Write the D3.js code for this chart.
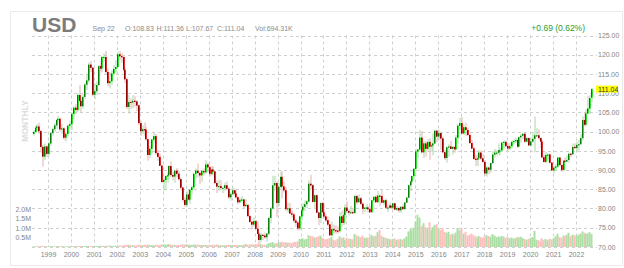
<!DOCTYPE html>
<html>
<head>
<meta charset="utf-8">
<script src="https://cdn.jsdelivr.net/npm/d3@7"></script>
<style>
  body { margin: 0; background: #fff; }
  svg { display: block; font-family: "Liberation Sans", Arial, sans-serif; }
</style>
</head>
<body>
<script>
// monthly bars, the first one is May 1998, the last one is Sep 2022 (partial)
const firstMonth = new Date(1998, 4, 1);

const opens = [
  99.4, 99.9, 101.0, 101.3, 100.1, 96.0, 93.5, 96.1,
  94.2, 96.9, 99.6, 100.6, 101.6, 103.0, 103.3, 100.6, 100.8, 98.4, 99.4, 101.5,
  101.9, 104.6, 106.2, 105.6, 109.5, 108.0, 106.6, 109.0, 112.2, 113.3, 117.4, 116.6,
  109.6, 110.5, 112.1, 117.0, 116.4, 119.4, 119.4, 115.5, 112.6, 113.1, 115.1, 116.3,
  116.8, 120.1, 119.6, 119.4, 116.1, 113.6, 106.4, 107.7, 107.6, 108.0, 107.8, 106.8,
  102.2, 100.1, 100.6, 100.5, 98.0, 93.9, 95.5, 97.9, 98.8, 94.4, 93.4, 91.1,
  86.9, 87.4, 88.4, 88.6, 91.0, 88.7, 88.3, 89.8, 89.0, 87.6, 85.4, 82.2,
  80.9, 83.6, 82.3, 84.8, 85.5, 89.0, 89.8, 89.2, 88.6, 89.7, 89.4, 91.4,
  90.7, 89.0, 90.1, 89.6, 86.6, 85.7, 85.8, 85.3, 85.3, 86.0, 85.1, 82.9,
  83.7, 84.7, 83.9, 82.9, 81.6, 82.2, 82.3, 80.6, 80.9, 78.0, 76.5, 75.8,
  76.7, 74.7, 73.4, 71.8, 73.1, 72.9, 72.5, 73.4, 77.5, 80.0, 86.0, 86.6,
  81.4, 85.6, 88.2, 85.7, 84.7, 79.8, 80.0, 78.7, 78.4, 76.8, 76.3, 74.8,
  77.9, 79.5, 80.4, 81.1, 81.8, 86.4, 86.0, 81.7, 83.4, 78.9, 77.5, 81.4,
  79.0, 77.9, 76.9, 75.8, 73.0, 74.6, 74.3, 74.2, 74.1, 77.9, 76.2, 78.3,
  80.2, 79.3, 78.9, 79.0, 78.8, 83.2, 81.6, 82.6, 81.2, 79.9, 80.2, 80.2,
  79.8, 79.0, 82.1, 83.0, 81.6, 83.3, 83.2, 81.5, 82.1, 80.2, 80.2, 80.7,
  80.2, 81.3, 79.7, 80.1, 79.5, 80.4, 79.8, 81.5, 82.8, 86.0, 87.0, 88.4,
  90.3, 94.8, 95.3, 98.4, 94.6, 96.9, 95.5, 97.3, 96.1, 96.4, 96.9, 100.2,
  98.7, 99.6, 98.2, 94.6, 93.1, 95.9, 96.1, 95.5, 96.0, 95.4, 98.4, 101.5,
  102.2, 99.5, 101.1, 100.4, 99.1, 97.0, 95.6, 92.9, 92.7, 93.1, 94.5, 93.0,
  92.1, 89.1, 90.6, 90.1, 91.8, 94.0, 94.5, 94.5, 95.1, 95.1, 97.1, 97.3,
  96.2, 95.6, 96.2, 97.3, 97.5, 97.8, 96.1, 98.5, 98.9, 99.4, 97.4, 98.3,
  96.4, 97.4, 98.1, 99.0, 99.0, 98.3, 97.4, 93.3, 92.1, 93.9, 94.0, 91.9,
  89.9, 90.6, 90.9, 93.2, 91.3, 90.0, 92.4, 92.2, 92.6, 94.2, 94.1, 96.0,
  95.7, 96.5, 96.7, 98.3, 103.0, 101.8, 104.7, 106.0, 108.83
];
const highs = [
  100.4, 101.6, 101.9, 102.3, 100.5, 96.6, 96.9, 96.5,
  97.3, 99.8, 101.0, 102.2, 103.3, 104.1, 103.6, 102.0, 101.1, 99.8, 101.8, 102.8,
  105.0, 106.6, 107.1, 110.0, 112.1, 108.6, 109.7, 112.6, 115.0, 118.0, 118.4, 116.8,
  112.5, 113.0, 117.3, 118.4, 119.7, 120.4, 121.0, 116.4, 115.4, 116.0, 117.3, 118.6,
  120.7, 121.0, 120.4, 119.5, 116.5, 114.0, 109.5, 108.6, 109.5, 109.2, 108.2, 107.0,
  102.7, 101.6, 102.4, 101.3, 98.1, 96.2, 98.1, 99.8, 99.4, 95.2, 94.2, 91.3,
  88.0, 88.6, 89.4, 91.3, 92.2, 89.5, 90.0, 90.5, 89.8, 88.0, 85.6, 82.9,
  84.3, 84.9, 85.1, 85.9, 89.1, 90.4, 91.7, 89.4, 90.1, 90.4, 92.6, 91.8,
  91.0, 91.0, 91.0, 89.8, 87.3, 87.5, 87.3, 85.7, 86.7, 87.0, 85.5, 84.2,
  85.5, 85.1, 84.6, 83.1, 82.8, 83.2, 82.5, 82.4, 81.0, 78.3, 76.8, 77.6,
  77.0, 76.6, 73.8, 73.6, 73.4, 73.7, 73.6, 77.9, 80.4, 88.5, 88.5, 87.0,
  86.6, 89.6, 89.7, 87.0, 85.5, 81.5, 81.4, 79.5, 78.8, 77.3, 76.7, 78.1,
  80.5, 81.3, 82.1, 82.2, 87.3, 88.7, 86.3, 83.6, 83.6, 79.0, 81.6, 81.8,
  81.4, 78.5, 77.8, 76.0, 76.6, 75.8, 75.6, 75.3, 79.0, 79.4, 79.6, 81.0,
  81.8, 79.8, 80.7, 80.0, 83.6, 83.5, 83.6, 83.0, 81.5, 80.3, 81.2, 80.5,
  80.6, 82.1, 83.2, 83.5, 84.5, 83.6, 84.8, 82.3, 82.6, 80.9, 81.5, 81.0,
  81.5, 81.4, 80.6, 80.5, 80.5, 81.0, 81.6, 82.9, 86.0, 87.3, 88.5, 90.4,
  95.5, 95.5, 100.4, 100.1, 97.4, 97.5, 98.0, 98.3, 96.8, 99.5, 100.5, 100.4,
  100.5, 99.8, 98.7, 95.2, 96.0, 96.7, 97.6, 96.2, 96.1, 99.1, 101.9, 103.6,
  103.8, 101.8, 102.3, 101.0, 99.4, 97.8, 96.0, 93.9, 94.0, 95.2, 95.1, 94.2,
  92.6, 91.0, 90.9, 91.9, 95.0, 95.5, 95.2, 96.9, 95.7, 97.2, 97.7, 97.7,
  96.9, 97.0, 97.7, 98.0, 98.4, 98.0, 98.7, 99.4, 99.7, 99.7, 98.5, 98.5,
  98.2, 99.9, 103.9, 100.9, 100.6, 98.4, 97.8, 93.9, 94.7, 94.3, 94.3, 92.0,
  91.0, 91.6, 93.4, 93.4, 91.4, 92.4, 93.2, 93.7, 94.5, 94.5, 96.9, 96.9,
  97.4, 97.8, 99.4, 103.9, 105.0, 105.8, 109.3, 109.5, 111.36
];
const lows = [
  98.9, 99.6, 100.3, 99.4, 94.5, 90.9, 92.6, 93.4,
  93.6, 96.3, 98.9, 100.0, 100.7, 102.1, 99.9, 99.4, 97.8, 97.4, 98.9, 100.7,
  100.4, 103.3, 104.6, 105.0, 107.5, 105.1, 106.0, 108.5, 110.8, 112.7, 115.5, 109.1,
  108.4, 109.5, 111.8, 115.3, 115.6, 118.3, 115.0, 111.8, 111.2, 112.2, 114.6, 115.4,
  116.5, 118.6, 117.9, 115.4, 112.6, 105.8, 104.7, 105.9, 106.1, 106.5, 105.3, 101.8,
  98.9, 99.4, 98.9, 97.6, 92.4, 93.1, 94.3, 97.3, 94.0, 92.4, 91.0, 86.6,
  84.6, 84.9, 86.7, 87.6, 88.2, 87.3, 86.7, 88.1, 87.3, 84.6, 81.7, 80.4,
  80.4, 81.9, 81.2, 83.6, 85.1, 87.8, 88.1, 86.3, 86.9, 88.6, 89.0, 89.4,
  88.3, 88.6, 88.7, 86.3, 84.0, 84.6, 84.9, 84.0, 84.6, 84.9, 82.4, 82.0,
  83.5, 83.1, 82.5, 81.1, 81.3, 81.9, 80.1, 80.4, 77.6, 76.2, 74.5, 75.3,
  74.5, 73.4, 70.7, 71.1, 71.7, 72.1, 71.3, 73.0, 76.2, 79.7, 84.6, 77.7,
  80.5, 85.1, 82.6, 84.1, 79.3, 78.9, 78.5, 77.6, 76.2, 75.2, 74.2, 74.3,
  76.9, 79.0, 79.3, 80.1, 81.5, 85.0, 81.5, 80.1, 78.8, 75.6, 76.2, 78.9,
  77.2, 76.4, 75.3, 72.9, 72.7, 73.5, 73.4, 73.4, 73.7, 75.3, 75.6, 77.8,
  78.9, 78.1, 78.6, 78.6, 78.7, 81.0, 81.5, 80.9, 78.6, 79.0, 79.7, 79.0,
  78.9, 78.9, 81.6, 81.6, 81.5, 80.5, 81.5, 80.8, 79.8, 79.0, 80.0, 79.8,
  79.8, 79.7, 79.3, 78.9, 78.9, 79.7, 79.8, 81.4, 82.6, 84.5, 86.5, 87.5,
  90.1, 93.2, 95.0, 94.5, 93.1, 93.5, 94.7, 92.6, 94.7, 93.8, 96.7, 97.2,
  97.9, 95.2, 94.6, 92.6, 91.9, 93.4, 95.4, 94.0, 94.5, 95.2, 96.9, 100.5,
  99.4, 99.2, 98.8, 98.8, 96.8, 95.5, 92.6, 91.0, 91.0, 92.8, 92.5, 91.9,
  88.4, 88.3, 88.9, 89.3, 91.5, 93.2, 93.7, 94.1, 93.8, 94.8, 95.7, 95.9,
  95.0, 95.2, 95.7, 96.8, 97.0, 95.8, 95.9, 97.1, 98.0, 97.1, 97.1, 96.4,
  96.2, 97.1, 94.6, 98.8, 97.8, 95.7, 93.0, 91.9, 91.7, 92.5, 91.7, 89.7,
  89.2, 89.7, 90.6, 90.9, 89.5, 89.7, 91.8, 92.0, 91.9, 93.3, 93.9, 95.5,
  94.6, 95.1, 96.6, 97.7, 101.3, 101.6, 104.6, 104.6, 107.67
];
const closes = [
  99.9, 101.0, 101.3, 100.1, 96.0, 93.5, 96.1, 94.2,
  96.9, 99.6, 100.6, 101.6, 103.0, 103.3, 100.6, 100.8, 98.4, 99.4, 101.5, 101.9,
  104.6, 106.2, 105.6, 109.5, 108.0, 106.6, 109.0, 112.2, 113.3, 117.4, 116.6, 109.6,
  110.5, 112.1, 117.0, 116.4, 119.4, 119.4, 115.5, 112.6, 113.1, 115.1, 116.3, 116.8,
  120.1, 119.6, 119.4, 116.1, 113.6, 106.4, 107.7, 107.6, 108.0, 107.8, 106.8, 102.2,
  100.1, 100.6, 100.5, 98.0, 93.9, 95.5, 97.9, 98.8, 94.4, 93.4, 91.1, 86.9,
  87.4, 88.4, 88.6, 91.0, 88.7, 88.3, 89.8, 89.0, 87.6, 85.4, 82.2, 80.9,
  83.6, 82.3, 84.8, 85.5, 89.0, 89.8, 89.2, 88.6, 89.7, 89.4, 91.4, 90.7,
  89.0, 90.1, 89.6, 86.6, 85.7, 85.8, 85.3, 85.3, 86.0, 85.1, 82.9, 83.7,
  84.7, 83.9, 82.9, 81.6, 82.2, 82.3, 80.6, 80.9, 78.0, 76.5, 75.8, 76.7,
  74.7, 73.4, 71.8, 73.1, 72.9, 72.5, 73.4, 77.5, 80.0, 86.0, 86.6, 81.4,
  85.6, 88.2, 85.7, 84.7, 79.8, 80.0, 78.7, 78.4, 76.8, 76.3, 74.8, 77.9,
  79.5, 80.4, 81.1, 81.8, 86.4, 86.0, 81.7, 83.4, 78.9, 77.5, 81.4, 79.0,
  77.9, 76.9, 75.8, 73.0, 74.6, 74.3, 74.2, 74.1, 77.9, 76.2, 78.3, 80.2,
  79.3, 78.9, 79.0, 78.8, 83.2, 81.6, 82.6, 81.2, 79.9, 80.2, 80.2, 79.8,
  79.0, 82.1, 83.0, 81.6, 83.3, 83.2, 81.5, 82.1, 80.2, 80.2, 80.7, 80.2,
  81.3, 79.7, 80.1, 79.5, 80.4, 79.8, 81.5, 82.8, 86.0, 87.0, 88.4, 90.3,
  94.8, 95.3, 98.4, 94.6, 96.9, 95.5, 97.3, 96.1, 96.4, 96.9, 100.2, 98.7,
  99.6, 98.2, 94.6, 93.1, 95.9, 96.1, 95.5, 96.0, 95.4, 98.4, 101.5, 102.2,
  99.5, 101.1, 100.4, 99.1, 97.0, 95.6, 92.9, 92.7, 93.1, 94.5, 93.0, 92.1,
  89.1, 90.6, 90.1, 91.8, 94.0, 94.5, 94.5, 95.1, 95.1, 97.1, 97.3, 96.2,
  95.6, 96.2, 97.3, 97.5, 97.8, 96.1, 98.5, 98.9, 99.4, 97.4, 98.3, 96.4,
  97.4, 98.1, 99.0, 99.0, 98.3, 97.4, 93.3, 92.1, 93.9, 94.0, 91.9, 89.9,
  90.6, 90.9, 93.2, 91.3, 90.0, 92.4, 92.2, 92.6, 94.2, 94.1, 96.0, 95.7,
  96.5, 96.7, 98.3, 103.0, 101.8, 104.7, 106.0, 108.7, 111.04
];
// contracts, thousands
const volumes = [
  30, 35, 30, 40, 55, 60, 45, 40,
  35, 40, 40, 35, 40, 45, 40, 45, 40, 35, 40, 35,
  40, 45, 45, 50, 55, 45, 45, 50, 55, 60, 55, 60,
  60, 55, 60, 65, 60, 55, 60, 65, 70, 60, 55, 60,
  70, 75, 70, 80, 85, 120, 110, 95, 90, 85, 80, 110,
  110, 100, 120, 95, 130, 110, 100, 95, 120, 105, 95, 130,
  140, 130, 120, 150, 125, 110, 115, 100, 105, 120, 135, 130,
  140, 120, 115, 110, 130, 125, 120, 115, 105, 100, 110, 95,
  110, 105, 100, 120, 130, 110, 95, 90, 95, 100, 120, 105,
  100, 95, 110, 105, 100, 95, 120, 150, 130, 125, 160, 120,
  150, 140, 180, 160, 120, 110, 120, 200, 220, 260, 180, 200,
  240, 230, 280, 250, 260, 220, 230, 210, 250, 270, 290, 420,
  420, 460, 400, 420, 620, 580, 560, 500, 520, 560, 600, 480,
  430, 400, 420, 470, 520, 380, 340, 420, 560, 480, 500, 360,
  480, 440, 420, 400, 680, 620, 560, 520, 600, 480, 500, 450,
  520, 640, 560, 600, 780, 900, 600, 520, 480, 450, 420, 360,
  420, 450, 380, 400, 420, 380, 460, 560, 820, 950, 880, 1020,
  1350, 1700, 1550, 1100, 1250, 1050, 1000, 1300, 900, 1050, 1150, 1200,
  1000, 900, 1000, 800, 750, 800, 650, 700, 620, 750, 1000, 900,
  950, 700, 800, 600, 650, 700, 620, 560, 500, 580, 520, 480,
  560, 620, 580, 540, 680, 600, 520, 560, 500, 580, 550, 480,
  520, 460, 500, 440, 480, 520, 500, 550, 480, 420, 380, 420,
  480, 520, 850, 380, 360, 300, 460, 380, 420, 360, 420, 400,
  460, 560, 700, 520, 480, 600, 580, 640, 750, 560, 650, 620,
  600, 650, 700, 820, 750, 680, 720, 780, 694
];

const priceTicks = [70, 75, 80, 85, 90, 95, 100, 105, 110, 115, 120, 125];
const volumeTicks = [500000, 1000000, 1500000, 2000000];
const years = [1999, 2000, 2001, 2002, 2003, 2004, 2005, 2006, 2007, 2008, 2009, 2010,
  2011, 2012, 2013, 2014, 2015, 2016, 2017, 2018, 2019, 2020, 2021, 2022];

const symbol = "USD";
const quoteTexts = ["Sep 22", "O:108.83", "H:111.36", "L:107.67", "C:111.04", "Vol:694.31K"];
const changeText = "+0.69 (0.62%)";
const lastPrice = 111.04;

(function (d3) {
  'use strict';
  const width = 624, height = 268;
  const plot = {left: 32, right: 597, top: 35.5, bottom: 247};

  const svg = d3.select("body")
    .append("svg")
      .attr("width", width)
      .attr("height", height);

  // outer frame
  svg.append("rect")
    .attr("x", 10.5).attr("y", 11.5)
    .attr("width", 612).attr("height", 254)
    .attr("fill", "none")
    .attr("stroke", "#ebebeb");

  const months = d3.timeMonth.range(firstMonth, d3.timeMonth.offset(firstMonth, closes.length));
  const bars = months.map(function (m, i) {
    return {date: m, o: opens[i], h: highs[i], l: lows[i], c: closes[i], v: volumes[i] * 1000};
  });

  const x = d3.scaleTime()
    .domain([new Date(1999, 0, 1), new Date(2022, 0, 1)])
    .range([48, 576]);
  const y = d3.scaleLinear()
    .domain([70, 125])
    .range([246.8, 35.5]);
  const yv = d3.scaleLinear()
    .domain([0, 2000000])
    .range([247, 209]);

  // grid
  const grid = svg.append("g")
    .attr("stroke", "#cfcfcf")
    .attr("stroke-dasharray", "3,3");
  grid.selectAll(".hgrid")
    .data(priceTicks)
    .enter().append("line")
      .attr("x1", plot.left).attr("x2", plot.right)
      .attr("y1", d => Math.round(y(d)) + 0.5)
      .attr("y2", d => Math.round(y(d)) + 0.5);
  grid.selectAll(".vgrid")
    .data(years)
    .enter().append("line")
      .attr("x1", d => Math.round(x(new Date(d, 0, 1))) + 0.5)
      .attr("x2", d => Math.round(x(new Date(d, 0, 1))) + 0.5)
      .attr("y1", plot.top).attr("y2", plot.bottom);

  // price axis on the right
  const yaxis = svg.append("g")
    .attr("transform", `translate(598,0)`)
    .call(d3.axisRight(y).tickValues(priceTicks).tickFormat(d3.format(".2f")).tickSize(0).tickPadding(0));
  // year axis
  const xaxis = svg.append("g")
    .attr("transform", `translate(0,${plot.bottom})`)
    .call(d3.axisBottom(x)
      .tickValues(years.map(d => new Date(d, 0, 1)))
      .tickFormat(d3.timeFormat("%Y"))
      .tickSize(0).tickPadding(5.3));
  // volume axis on the left
  const vaxis = svg.append("g")
    .attr("transform", `translate(31,0)`)
    .call(d3.axisLeft(yv).tickValues(volumeTicks)
      .tickFormat(d => (d / 1e6).toFixed(1) + "M").tickSize(0).tickPadding(0));

  [yaxis, xaxis, vaxis].forEach(function (a) {
    a.select(".domain").remove();
    a.selectAll("text")
      .attr("fill", "#858585")
      .style("font-size", "7px")
      .style("font-family", '"Liberation Sans", Arial, sans-serif');
  });

  // volume bars
  const cx = d => Math.round(x(d.date));
  const up = d => d.c >= d.o;
  svg.append("g")
    .selectAll("rect")
    .data(bars)
    .enter().append("rect")
      .attr("x", d => cx(d) - 0.5)
      .attr("width", 2)
      .attr("y", d => yv(d.v))
      .attr("height", d => yv(0) - yv(d.v))
      .attr("fill", d => up(d) ? "#abdfa4" : "#ffbdbd");

  // wicks
  svg.append("g")
    .selectAll("line")
    .data(bars)
    .enter().append("line")
      .attr("x1", d => cx(d) + 1)
      .attr("x2", d => cx(d) + 1)
      .attr("y1", d => y(d.h))
      .attr("y2", d => y(d.l))
      .attr("stroke", d => up(d) ? "#a9d6a9" : "#e6b0b0")
      .attr("stroke-width", 1);

  // bodies: bright fill with a dark left edge
  const body = svg.append("g")
    .selectAll("g")
    .data(bars)
    .enter().append("g");
  body.append("rect")
      .attr("x", d => cx(d))
      .attr("width", 1.8)
      .attr("y", d => y(Math.max(d.o, d.c)))
      .attr("height", d => Math.max(1, Math.abs(y(d.o) - y(d.c))))
      .attr("fill", d => up(d) ? "#0ee60e" : "#dc0a0a");
  body.append("rect")
      .attr("x", d => cx(d))
      .attr("width", 0.9)
      .attr("y", d => y(Math.max(d.o, d.c)))
      .attr("height", d => Math.max(1, Math.abs(y(d.o) - y(d.c))))
      .attr("fill", d => up(d) ? "#08700a" : "#8c0000");

  // last price marker
  const ly = y(lastPrice);
  svg.append("rect")
    .attr("x", 596).attr("y", ly - 3.5)
    .attr("width", 22).attr("height", 7)
    .attr("fill", "#ffff00");
  svg.append("text")
    .attr("x", 598).attr("y", ly)
    .attr("dy", "0.35em")
    .attr("fill", "#333")
    .style("font-size", "7px")
    .text(d3.format(".2f")(lastPrice));

  // header
  svg.append("text")
    .attr("x", 32).attr("y", 31.5)
    .attr("fill", "#7c7c7c")
    .style("font-size", "21px")
    .style("font-weight", "bold")
    .text(symbol);

  const quoteX = [92.5, 125, 156.5, 186, 217, 255];
  svg.append("g")
    .selectAll("text")
    .data(quoteTexts)
    .enter().append("text")
      .attr("x", (d, i) => quoteX[i])
      .attr("y", 30.5)
      .attr("fill", "#8a8a8a")
      .style("font-size", "7px")
      .text(d => d);

  svg.append("text")
    .attr("x", 585).attr("y", 30.5)
    .attr("text-anchor", "end")
    .attr("fill", "#2a9d2a")
    .style("font-size", "8.5px")
    .text(changeText);

  svg.append("text")
    .attr("transform", "translate(28.3,121) rotate(-90)")
    .attr("text-anchor", "middle")
    .attr("fill", "#dcdcdc")
    .style("font-size", "8.5px")
    .style("font-weight", "bold")
    .text("MONTHLY");

}(d3));
</script>
</body>
</html>
